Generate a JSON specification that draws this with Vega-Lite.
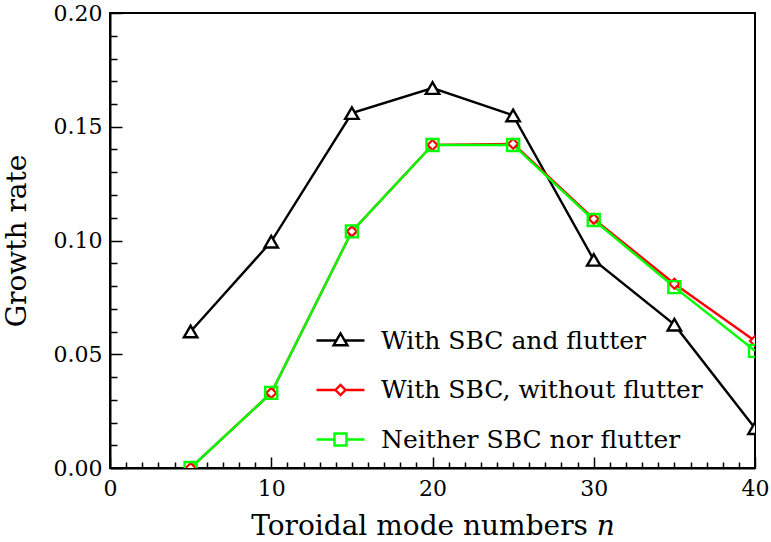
{
  "$schema": "https://vega.github.io/schema/vega-lite/v6.json",
  "width": 645,
  "height": 455,
  "autosize": {"type": "none"},
  "padding": {"left": 110, "top": 13, "right": 16, "bottom": 74},
  "background": "white",
  "config": {
    "font": "DejaVu Serif",
    "view": {"stroke": "black", "strokeWidth": 2},
    "axis": {"grid": false, "domainColor": "black", "domainWidth": 2, "tickColor": "black", "tickWidth": 1.5, "labelColor": "black", "titleColor": "black", "labelFont": "DejaVu Serif", "titleFont": "DejaVu Serif", "labelFontSize": 22, "titleFontSize": 28, "titleFontWeight": "normal"},
    "legend": {"labelFont": "DejaVu Serif", "labelFontSize": 25, "labelColor": "black"}
  },
  "data": {"values": [
    {"series": "With SBC and flutter", "n": 5, "rate": 0.060},
    {"series": "With SBC and flutter", "n": 10, "rate": 0.0995},
    {"series": "With SBC and flutter", "n": 15, "rate": 0.156},
    {"series": "With SBC and flutter", "n": 20, "rate": 0.167},
    {"series": "With SBC and flutter", "n": 25, "rate": 0.155},
    {"series": "With SBC and flutter", "n": 30, "rate": 0.0915},
    {"series": "With SBC and flutter", "n": 35, "rate": 0.063},
    {"series": "With SBC and flutter", "n": 40, "rate": 0.0175},
    {"series": "With SBC, without flutter", "n": 5, "rate": 0.0},
    {"series": "With SBC, without flutter", "n": 10, "rate": 0.033},
    {"series": "With SBC, without flutter", "n": 15, "rate": 0.104},
    {"series": "With SBC, without flutter", "n": 20, "rate": 0.142},
    {"series": "With SBC, without flutter", "n": 25, "rate": 0.1425},
    {"series": "With SBC, without flutter", "n": 30, "rate": 0.1095},
    {"series": "With SBC, without flutter", "n": 35, "rate": 0.081},
    {"series": "With SBC, without flutter", "n": 40, "rate": 0.0558},
    {"series": "Neither SBC nor flutter", "n": 5, "rate": 0.0},
    {"series": "Neither SBC nor flutter", "n": 10, "rate": 0.033},
    {"series": "Neither SBC nor flutter", "n": 15, "rate": 0.104},
    {"series": "Neither SBC nor flutter", "n": 20, "rate": 0.142},
    {"series": "Neither SBC nor flutter", "n": 25, "rate": 0.142},
    {"series": "Neither SBC nor flutter", "n": 30, "rate": 0.109},
    {"series": "Neither SBC nor flutter", "n": 35, "rate": 0.0795},
    {"series": "Neither SBC nor flutter", "n": 40, "rate": 0.0515}
  ]},
  "encoding": {
    "x": {"field": "n", "type": "quantitative",
      "scale": {"domain": [0, 40], "nice": false},
      "axis": {"title": "Toroidal mode numbers 𝑛", "values": [0,1,2,3,4,5,6,7,8,9,10,11,12,13,14,15,16,17,18,19,20,21,22,23,24,25,26,27,28,29,30,31,32,33,34,35,36,37,38,39,40],
        "labelExpr": "datum.value % 10 == 0 ? datum.label : ''",
        "tickSize": {"condition": {"test": "datum.value % 10 == 0", "value": -11}, "value": -6},
        "labelPadding": 21, "titlePadding": 8, "labelFlush": false, "labelOverlap": false}},
    "y": {"field": "rate", "type": "quantitative",
      "scale": {"domain": [0, 0.2], "nice": false},
      "axis": {"title": "Growth rate", "values": [0,0.01,0.02,0.03,0.04,0.05,0.06,0.07,0.08,0.09,0.1,0.11,0.12,0.13,0.14,0.15,0.16,0.17,0.18,0.19,0.2],
        "labelExpr": "round(datum.value*100) % 5 == 0 ? format(datum.value, '.2f') : ''",
        "tickSize": {"condition": {"test": "round(datum.value*100) % 5 == 0", "value": -12}, "value": -7},
        "labelPadding": 20, "titlePadding": 22, "labelFlush": false, "labelOverlap": false}}
  },
  "layer": [
    {
      "mark": {"type": "line", "strokeWidth": 2.4, "clip": true},
      "encoding": {
        "color": {"field": "series", "type": "nominal",
          "scale": {"domain": ["With SBC and flutter", "With SBC, without flutter", "Neither SBC nor flutter"], "range": ["#000000", "#ff0000", "#00ff00"]},
          "legend": {"title": null, "orient": "none", "legendX": 205, "legendY": 302, "padding": 0,
            "symbolSize": 2304, "symbolStrokeWidth": 2.4, "labelOffset": 15, "rowPadding": 10.5, "labelLimit": 600,
            "encode": {"symbols": {"update": {"fill": {"value": "white"}, "strokeWidth": {"value": 2.4}}}}}}
      }
    },
    {
      "transform": [{"filter": "datum.series === 'With SBC and flutter'"}],
      "mark": {"type": "point", "shape": "triangle-up", "size": 180, "filled": false, "fill": "white", "fillOpacity": 1, "stroke": "#000000", "strokeWidth": 2.4, "opacity": 1, "clip": true}
    },
    {
      "transform": [{"filter": "datum.series === 'With SBC, without flutter'"}],
      "mark": {"type": "point", "shape": "diamond", "size": 100, "filled": false, "fill": "white", "fillOpacity": 1, "stroke": "#ff0000", "strokeWidth": 2.2, "opacity": 1, "clip": true}
    },
    {
      "transform": [{"filter": "datum.series === 'Neither SBC nor flutter'"}],
      "mark": {"type": "point", "shape": "square", "size": 144, "filled": false, "stroke": "#00ff00", "strokeWidth": 2.4, "opacity": 1, "clip": true}
    },
    {
      "mark": {"type": "point", "filled": false, "strokeWidth": 0, "size": 0, "opacity": 1, "clip": true},
      "encoding": {
        "shape": {"field": "series", "type": "nominal",
          "scale": {"domain": ["With SBC and flutter", "With SBC, without flutter", "Neither SBC nor flutter"],
            "range": ["M-1,0H-0.17M0.17,0H1M0,-0.3L0.29,0.2H-0.29Z", "M-1,0H-0.21M0.21,0H1M0,-0.21L0.21,0L0,0.21L-0.21,0Z", "M-1,0H-0.25M0.25,0H1M-0.25,-0.25H0.25V0.25H-0.25Z"]},
          "legend": null}
      }
    }
  ]
}
